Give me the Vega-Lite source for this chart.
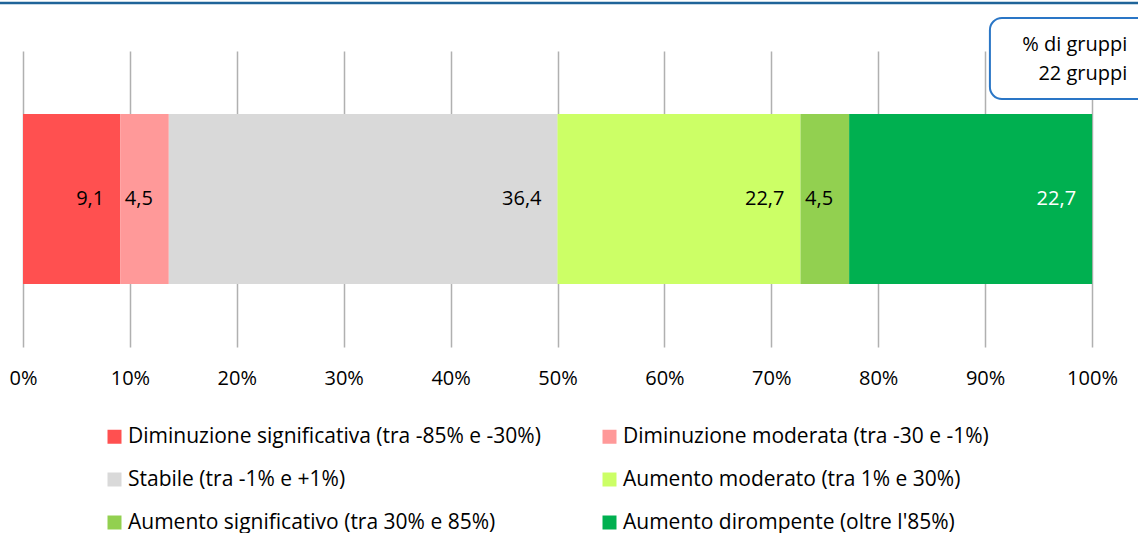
{
  "$schema": "https://vega.github.io/schema/vega-lite/v6.json",
  "autosize": "none",
  "width": 1069,
  "height": 296,
  "padding": {"left": 23, "top": 51, "right": 46, "bottom": 186},
  "background": "white",
  "config": {
    "font": "Open Sans",
    "view": {"stroke": null},
    "locale": {"number": {"decimal": ",", "thousands": ".", "grouping": [3], "currency": ["€", ""]}}
  },
  "layer": [
    {
      "data": {"values": [
        {"cat": "Diminuzione significativa (tra -85% e -30%)", "value": 9.09, "idx": 1, "grp": "g"},
        {"cat": "Diminuzione moderata (tra -30 e -1%)", "value": 4.55, "idx": 2, "grp": "g"},
        {"cat": "Stabile (tra -1% e +1%)", "value": 36.36, "idx": 3, "grp": "g"},
        {"cat": "Aumento moderato (tra 1% e 30%)", "value": 22.73, "idx": 4, "grp": "g"},
        {"cat": "Aumento significativo (tra 30% e 85%)", "value": 4.55, "idx": 5, "grp": "g"},
        {"cat": "Aumento dirompente (oltre l'85%)", "value": 22.73, "idx": 6, "grp": "g"}
      ]},
      "layer": [
        {
          "mark": {"type": "bar", "height": 170},
          "encoding": {
            "x": {
              "field": "value", "type": "quantitative", "stack": "zero",
              "scale": {"domain": [0, 100], "nice": false, "zero": true},
              "axis": {
                "title": null, "domain": false, "ticks": false, "grid": true,
                "gridColor": "#b0b0b0", "gridWidth": 1.5,
                "values": [0, 10, 20, 30, 40, 50, 60, 70, 80, 90, 100],
                "labelExpr": "datum.value + '%'",
                "labelFlush": false, "labelOverlap": false,
                "labelFontSize": 20, "labelColor": "#000000", "labelPadding": 21
              }
            },
            "y": {"field": "grp", "type": "nominal", "axis": null},
            "order": {"field": "idx", "type": "quantitative"},
            "color": {
              "field": "cat", "type": "nominal",
              "scale": {
                "domain": [
                  "Diminuzione significativa (tra -85% e -30%)",
                  "Diminuzione moderata (tra -30 e -1%)",
                  "Stabile (tra -1% e +1%)",
                  "Aumento moderato (tra 1% e 30%)",
                  "Aumento significativo (tra 30% e 85%)",
                  "Aumento dirompente (oltre l'85%)"
                ],
                "range": ["#ff5050", "#ff9999", "#d9d9d9", "#ccff66", "#92d050", "#00b050"]
              },
              "legend": {
                "title": null, "orient": "none", "legendX": 81, "legendY": 375,
                "direction": "horizontal",
                "columns": 2, "columnPadding": 58, "rowPadding": 21,
                "symbolType": "square", "symbolSize": 196, "symbolStrokeWidth": 0,
                "labelFontSize": 21, "labelColor": "#000000", "labelOffset": 3, "labelLimit": 0
              }
            }
          }
        },
        {
          "mark": {"type": "text", "align": "right", "baseline": "middle", "dx": -16, "fontSize": 20},
          "encoding": {
            "x": {"field": "value", "type": "quantitative", "stack": "zero"},
            "y": {"field": "grp", "type": "nominal"},
            "order": {"field": "idx", "type": "quantitative"},
            "detail": {"field": "cat", "type": "nominal"},
            "text": {"field": "value", "type": "quantitative", "format": ".1f"},
            "color": {"condition": {"test": "datum.idx === 6", "value": "#ffffff"}, "value": "#000000"}
          }
        }
      ]
    },
    {
      "data": {"values": [{}]},
      "mark": {"type": "rule", "color": "#1f6499", "strokeWidth": 2.5},
      "encoding": {
        "x": {"datum": -5, "type": "quantitative"},
        "x2": {"datum": 110},
        "y": {"value": -48}
      }
    },
    {
      "data": {"values": [{}]},
      "mark": {"type": "rect", "fill": "#ffffff", "stroke": "#2a76c6", "strokeWidth": 2, "cornerRadius": 12},
      "encoding": {
        "x": {"datum": 90.45, "type": "quantitative"},
        "x2": {"datum": 106},
        "y": {"value": -33},
        "y2": {"value": 48}
      }
    },
    {
      "data": {"values": [{}]},
      "mark": {"type": "text", "text": ["% di gruppi", "22 gruppi"], "align": "right", "baseline": "middle", "lineHeight": 29, "fontSize": 20, "color": "#000000"},
      "encoding": {
        "x": {"datum": 103.3, "type": "quantitative"},
        "y": {"value": -6}
      }
    }
  ]
}
